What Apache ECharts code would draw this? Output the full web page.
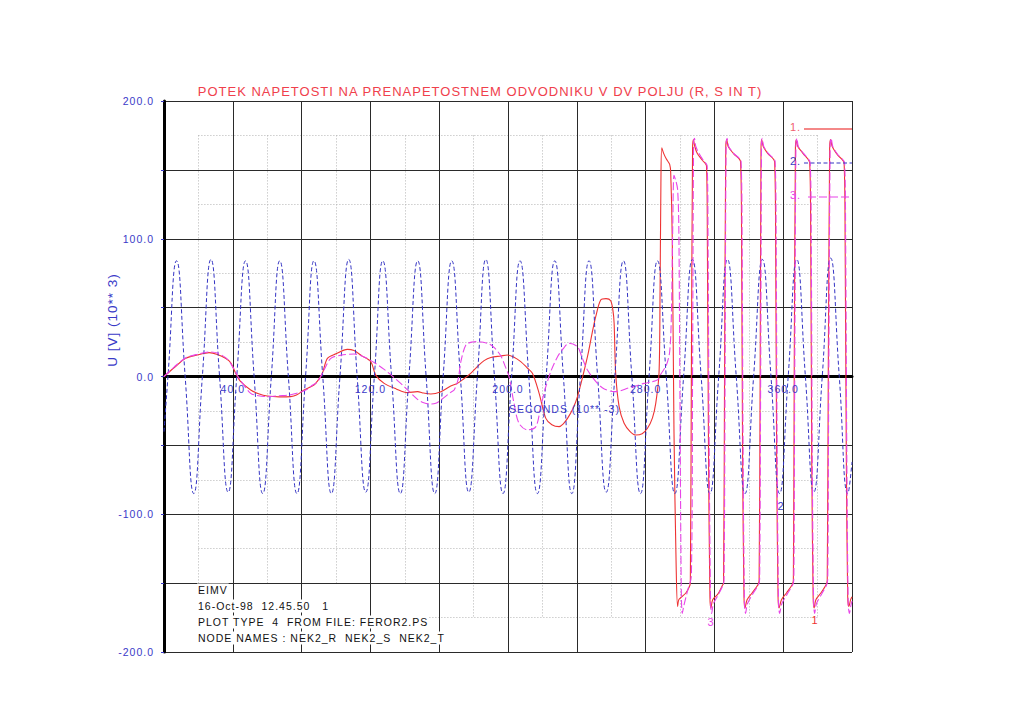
<!DOCTYPE html>
<html><head><meta charset="utf-8">
<script src="https://cdn.jsdelivr.net/npm/echarts@6/dist/echarts.min.js"></script>
<style>html,body{margin:0;padding:0;background:#fff}#c{width:1024px;height:723px}#c text{letter-spacing:1px}</style>
</head><body><div id="c"></div>
<script>
// ---- tick labels ----
const xLabelTicks = [40, 120, 200, 280, 360];
const yLabelTicks = [-200, -100, 0, 100, 200];

// ---- series 1: NEK2_R (red, solid) ----
const redT = [0,6,12.6,20,26.2,31,36,38.8,41.7,44.6,50.4,55,60,67,73.7,77,81.4,87.2,90,92.1,95,100,106.6,110.5,115,120.2,123.1,128,135,141.5,147.4,151,155.1,161,166.7,170.6,174,178.3,182,186.1,190,195.8,199.7,203.5,207.4,211,214.2,218.1,222,225.5,229.7,232,234.6,237.5,240.4,246.2,249,251,253.9,257,259.7,261,261.7,262.6,264.6,267.5,271,274.3,278,281.1,284,285.9,287.8,
  288.4,288.9,289.4,290.5,292,294,294.6,295.5,296.5,297.8,298.6,299.3,301,303.5,305.3,306.0,
  306.6,307.3,307.8,308.6,310,313,315.4,315.9,316.6,317.4,318,319,322,324.5,325.3,
  325.9,326.6,327.2,328,331,335.2,335.8,336.4,337.2,337.8,339,342,345.4,346,
  346.6,347.1,347.5,348.4,351,355,355.6,356.2,357,357.6,359,362,365.3,365.9,
  366.4,367.1,367.7,368.5,371.5,375.4,376,376.6,377.4,378,379,382,385,385.6,
  386.2,387,387.6,388.5,391.5,395.4,396,396.7,397.5,398.2,399.2,400];
const redV = [0,6.5,13.2,15.8,17.3,16,13,10,2.3,-3.8,-9.8,-12.5,-14.2,-14.8,-14.6,-13.5,-9.8,-6.2,-2,2.3,13.2,16.5,19.7,18.8,15,10.8,1,-5,-9,-11.7,-11,-12,-12.7,-11,-6.9,-5,-2,2.3,7,11.5,13.8,14.9,15.6,14,10.8,6.5,2.3,-12.2,-30.4,-35,-36.4,-34.5,-30.4,-24,-14.6,14.4,32,43.4,55.5,56.5,55,48,38.6,2.3,-21.9,-34,-40,-42.5,-41.5,-37.6,-30,-19.5,2.3,
  60,140,166,162,158,154,148,100,-40,-140,-167,-162,-160,-157,-153,-150,
  0,165,172,167,162,157,153,100,-60,-160,-168,-162,-158,-152,-150,
  0,166,172,167,162,156,100,-60,-160,-168,-162,-157,-151,-148,
  0,166,172,167,162,156,100,-60,-160,-168,-162,-157,-151,-148,
  0,166,172,167,162,155,100,-60,-160,-168,-162,-157,-151,-148,
  0,166,172,167,161,155,100,-60,-160,-167,-162,-160];

// ---- series 2: NEK2_S (blue, dashed) ----
const blueT = [0,2.3,7.3,12.3,17.3,22.3,27.3,32.3,37.3,42.3,47.4,52.4,57.4,62.4,67.3,72.3,77.3,82.3,87.2,92.3,97.3,102.3,107.4,112.3,117.3,122.3,127.2,132.3,137.4,142.4,147.5,152.4,157.4,162.3,167.3,172.3,177.2,182.2,187.1,192.1,197.1,202.1,207.0,212.1,217.1,222.2,227.2,232.2,237.1,242.1,247.1,252.1,257.1,262.1,267.1,272.0,277.0,282.0,286.9,292.0,297.0,302.1,307.2,312.3,317.4,322.5,327.6,332.7,337.8,342.8,347.9,352.9,357.9,362.9,367.9,372.9,377.8,382.7,387.6,392.6,397.6,400];
const blueV = [-40,0,84,0,-85,0,85,0,-84,0,84,0,-85,0,84,0,-85,0,84,0,-85,0,85,0,-84,0,84,0,-85,0,84,0,-85,0,84,0,-84,0,85,0,-85,0,84,0,-85,0,84,0,-85,0,84,0,-84,0,84,0,-85,0,84,0,-85,0,85,0,-85,0,85,0,-85,0,85,0,-85,0,85,0,-84,0,86,0,-85,-62];

// ---- series 3: NEK2_T (magenta, dash-dot) ----
const magT = [0,6,12.6,20,26.2,31,36,39,41.7,44.6,50.4,55,60,67,73.7,79,83,86,89.3,93,97,103,110.5,114,118,123,128,133,139.7,147.4,151,155.1,158,161,166.7,168.7,171,172.6,175.5,179,182.3,188.1,192,195.8,198.5,200.6,203.5,206.4,211.3,216.2,219,222,225,228.8,232,235.5,240.4,243,246.2,252,256,261.7,265,269.4,274,279.1,283,286.9,
  289,292,294,295,295.8,296.5,297.6,298.6,299.3,300,300.7,301.3,302.3,304.5,306.6,
  307.3,307.9,308.4,309.2,311,313.5,315.8,316.3,317,317.8,318.4,319.4,322,324.8,325.6,
  326.2,326.8,327.4,328.3,331.2,335.5,336.1,336.7,337.5,338.1,339.2,342.2,345.7,346.3,
  346.9,347.4,347.8,348.7,351.3,355.3,355.9,356.5,357.3,357.9,359.2,362.3,365.6,366.2,
  366.7,367.4,368,368.8,371.8,375.7,376.3,376.9,377.7,378.3,379.3,382.3,385.3,385.9,
  386.5,387.3,387.9,388.8,391.8,395.7,396.3,397,397.8,398.5,399.4,400];
const magV = [0,7,13.5,16.3,17.8,17,13.5,9,3,-3,-12.2,-14,-14.6,-14,-13.3,-11.5,-9.5,-6.5,-3.8,4.7,13.2,15.5,16.3,15.5,13.2,9.5,5.2,0,-7.4,-16.6,-19,-20,-19.5,-17,-11.5,-9.8,-2,10.8,22.9,25,25.3,24.1,21,15,7,0,-19.5,-34,-38.8,-36.4,-22,-7.4,4,14.4,20,24.1,21.6,14,4.7,-5,-9,-11,-10.5,-8.6,-7,-5,-4,-2.5,
  2,8,18,45,110,146,142,136,110,-20,-150,-172,-166,-155,-145,
  0,170,173,167,162,157,153,100,-60,-165,-172,-165,-159,-152,-148,
  0,168,173,167,162,156,100,-60,-165,-172,-165,-158,-151,-147,
  0,168,173,167,162,156,100,-60,-165,-172,-165,-158,-151,-147,
  0,168,173,167,162,155,100,-60,-165,-172,-165,-158,-151,-147,
  0,168,173,167,161,155,100,-60,-165,-172,-166,-163];

const RED = '#ee3333', BLUE = '#3434c4', MAG = '#e845e8', TXTBLUE = '#3a3ac8';
const FONT = '"Liberation Sans", Arial, sans-serif';

const pairs = (t, v) => t.map((x, i) => [x, v[i]]);
const noAxis = {axisLine: {show: false}, axisTick: {show: false}, axisLabel: {show: false}};
const dotted = {show: true, lineStyle: {color: '#b4b4b4', width: 1, type: [1, 2]}};
const solid = {show: true, lineStyle: {color: '#2a2a2a', width: 1}};

const chart = echarts.init(document.getElementById('c'), null, {renderer: 'svg'});
chart.setOption({
  animation: false,
  backgroundColor: '#ffffff',
  grid: [
    {left: 164, top: 101, width: 688, height: 551, show: false},
    {left: 198.4, top: 135.4, width: 619.2, height: 482.2, show: false},
    {left: 164, top: 101, width: 688, height: 275.5, show: false}
  ],
  xAxis: [
    {type: 'value', gridIndex: 0, min: 0, max: 400, interval: 40, z: 2,
     axisLine: {show: true, onZero: true, lineStyle: {color: '#000', width: 3}},
     axisTick: {show: false}, axisLabel: {show: false}, splitLine: solid},
    Object.assign({type: 'value', gridIndex: 1, min: 20, max: 380, interval: 40, z: 0, splitLine: dotted}, noAxis),
    {type: 'value', gridIndex: 2, min: 0, max: 400, interval: 40, z: 4,
     axisLine: {show: false}, axisTick: {show: false}, splitLine: {show: false},
     axisLabel: {show: true, color: TXTBLUE, fontSize: 10.5, fontFamily: FONT, margin: 7,
       formatter: v => xLabelTicks.includes(v) ? v.toFixed(1) : ''}}
  ],
  yAxis: [
    {type: 'value', gridIndex: 0, min: -200, max: 200, interval: 50, z: 2,
     axisLine: {show: true, onZero: false, lineStyle: {color: '#000', width: 3}},
     axisTick: {show: true, length: 3, lineStyle: {color: TXTBLUE, width: 1}},
     axisLabel: {show: true, color: TXTBLUE, fontSize: 10.5, fontFamily: FONT, margin: 10,
       formatter: v => yLabelTicks.includes(v) ? v.toFixed(1) : ''},
     splitLine: solid},
    Object.assign({type: 'value', gridIndex: 1, min: -175, max: 175, interval: 50, z: 0, splitLine: dotted}, noAxis),
    Object.assign({type: 'value', gridIndex: 2, min: 0, max: 1, show: false, splitLine: {show: false}}, noAxis)
  ],
  series: [
    {name: 'NEK2_R', type: 'line', xAxisIndex: 0, yAxisIndex: 0, data: pairs(redT, redV),
     showSymbol: false, smooth: 0.3, lineStyle: {color: RED, width: 1.1}, z: 3},
    {name: 'NEK2_S', type: 'line', xAxisIndex: 0, yAxisIndex: 0, data: pairs(blueT, blueV),
     showSymbol: false, smooth: 0.5, lineStyle: {color: BLUE, width: 1, type: [4, 2.5]}, z: 3},
    {name: 'NEK2_T', type: 'line', xAxisIndex: 0, yAxisIndex: 0, data: pairs(magT, magV),
     showSymbol: false, smooth: 0.3, lineStyle: {color: MAG, width: 1.1, type: [8, 3]}, z: 3}
  ],
  graphic: [
    // white mask behind the note block (hides the dotted grid there)
    {type: 'rect', z: 1, shape: {x: 195, y: 583, width: 234, height: 62}, style: {fill: '#fff'}},
    {type: 'text', x: 480, y: 91, z: 10, style: {text: 'POTEK NAPETOSTI NA PRENAPETOSTNEM ODVODNIKU V DV POLJU (R, S IN T)',
      fill: '#f0404c', font: '13px ' + FONT, textAlign: 'center', textVerticalAlign: 'middle'}},
    {type: 'text', x: 112, y: 320, rotation: Math.PI / 2, z: 10, style: {text: 'U [V] (10** 3)',
      fill: TXTBLUE, font: '13.5px ' + FONT, textAlign: 'center', textVerticalAlign: 'middle'}},
    {type: 'text', x: 509, y: 409, z: 10, style: {text: 'SECONDS (10** -3)',
      fill: TXTBLUE, font: '10.5px ' + FONT, textAlign: 'left', textVerticalAlign: 'middle'}},
    {type: 'text', x: 197, y: 590, z: 10, style: {text: 'EIMV', fill: '#111', font: '10.5px ' + FONT,
      textVerticalAlign: 'middle', backgroundColor: '#fff', padding: [1, 5, 1, 1]}},
    {type: 'text', x: 197, y: 606, z: 10, style: {text: '16-Oct-98  12.45.50   1', fill: '#111', font: '10.5px ' + FONT,
      textVerticalAlign: 'middle', backgroundColor: '#fff', padding: [1, 23, 1, 1]}},
    {type: 'text', x: 197, y: 622, z: 10, style: {text: 'PLOT TYPE  4  FROM FILE: FEROR2.PS', fill: '#111', font: '10.5px ' + FONT,
      textVerticalAlign: 'middle', backgroundColor: '#fff', padding: [1, 34, 1, 1]}},
    {type: 'text', x: 197, y: 638, z: 10, style: {text: 'NODE NAMES : NEK2_R  NEK2_S  NEK2_T', fill: '#111', font: '10.5px ' + FONT,
      textVerticalAlign: 'middle', backgroundColor: '#fff', padding: [1, 35, 1, 1]}},
    // legend
    {type: 'text', x: 790, y: 127, z: 10, style: {text: '1.', fill: '#f06070', font: '11px ' + FONT, textVerticalAlign: 'middle'}},
    {type: 'line', z: 10, shape: {x1: 804, y1: 129, x2: 852, y2: 129}, style: {stroke: '#f06060', lineWidth: 1.5}},
    {type: 'text', x: 790, y: 161, z: 10, style: {text: '2.', fill: TXTBLUE, font: '11px ' + FONT, textVerticalAlign: 'middle'}},
    {type: 'line', z: 10, shape: {x1: 804, y1: 163, x2: 852, y2: 163}, style: {stroke: BLUE, lineWidth: 1.2, lineDash: [4, 2.5]}},
    {type: 'text', x: 790, y: 195, z: 10, style: {text: '3.', fill: MAG, font: '11px ' + FONT, textVerticalAlign: 'middle'}},
    {type: 'line', z: 10, shape: {x1: 808, y1: 197, x2: 850, y2: 197}, style: {stroke: MAG, lineWidth: 1.2, lineDash: [8, 3]}},
    // curve identifiers
    {type: 'text', x: 781, y: 506, z: 10, style: {text: '2', fill: TXTBLUE, font: '11px ' + FONT, textAlign: 'center', textVerticalAlign: 'middle'}},
    {type: 'text', x: 711, y: 622, z: 10, style: {text: '3', fill: MAG, font: '11px ' + FONT, textAlign: 'center', textVerticalAlign: 'middle'}},
    {type: 'text', x: 815, y: 620, z: 10, style: {text: '1', fill: RED, font: '11px ' + FONT, textAlign: 'center', textVerticalAlign: 'middle'}}
  ]
});
</script>
</body></html>
